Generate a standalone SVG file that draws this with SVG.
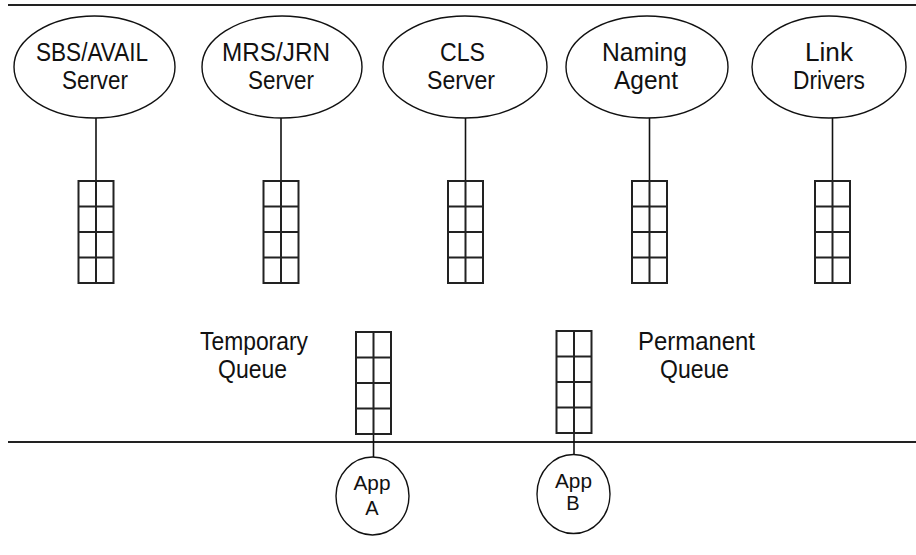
<svg xmlns="http://www.w3.org/2000/svg" width="916" height="555" viewBox="0 0 916 555">
<defs>
<style>
.bar{stroke:#222;stroke-width:2;fill:none}
.ell{fill:#fff;stroke:#111;stroke-width:1.4}
.q{fill:none;stroke:#222;stroke-width:2}
.stem{stroke:#111;stroke-width:1.6;fill:none}
text{font-family:"Liberation Sans",Arial,sans-serif;font-size:25px;fill:#111;text-anchor:middle}
.small{font-size:20px}
</style>
<path id="qshape" class="q" d="M0,0H35V102H0Z M17.5,0V102 M0,25.5H35 M0,51H35 M0,76.5H35"/>
</defs>
<rect width="916" height="555" fill="#fff"/>
<g id="boundaries">
<line class="bar" x1="8" y1="5" x2="916" y2="5"/>
<line class="bar" x1="8" y1="442" x2="916" y2="442"/>
</g>
<g id="connectors">
<line class="stem" x1="96" y1="118" x2="96" y2="181"/>
<line class="stem" x1="281" y1="118" x2="281" y2="181"/>
<line class="stem" x1="465.5" y1="118" x2="465.5" y2="181"/>
<line class="stem" x1="649.5" y1="118" x2="649.5" y2="181"/>
<line class="stem" x1="832.5" y1="118" x2="832.5" y2="181"/>
<line class="stem" x1="373.5" y1="434" x2="373.5" y2="457"/>
<line class="stem" x1="574" y1="433" x2="574" y2="455"/>
</g>
<g id="sbs-avail">
<ellipse class="ell" cx="94.5" cy="67" rx="80.5" ry="51"/>
<text x="92" y="61" textLength="112" lengthAdjust="spacingAndGlyphs">SBS/AVAIL</text>
<text x="95" y="89" textLength="66" lengthAdjust="spacingAndGlyphs">Server</text>
</g>
<g id="mrs-jrn">
<ellipse class="ell" cx="282" cy="67" rx="80" ry="51"/>
<text x="276" y="61" textLength="108" lengthAdjust="spacingAndGlyphs">MRS/JRN</text>
<text x="281" y="89" textLength="66" lengthAdjust="spacingAndGlyphs">Server</text>
</g>
<g id="cls">
<ellipse class="ell" cx="465" cy="67" rx="82" ry="51"/>
<text x="462.5" y="61" textLength="45" lengthAdjust="spacingAndGlyphs">CLS</text>
<text x="461" y="89" textLength="68" lengthAdjust="spacingAndGlyphs">Server</text>
</g>
<g id="naming-agent">
<ellipse class="ell" cx="647" cy="67" rx="81" ry="51"/>
<text x="644.5" y="61" textLength="85" lengthAdjust="spacingAndGlyphs">Naming</text>
<text x="646" y="89" textLength="64" lengthAdjust="spacingAndGlyphs">Agent</text>
</g>
<g id="link-drivers">
<ellipse class="ell" cx="829" cy="67" rx="77" ry="51"/>
<text x="829" y="61" textLength="48" lengthAdjust="spacingAndGlyphs">Link</text>
<text x="829" y="89" textLength="72" lengthAdjust="spacingAndGlyphs">Drivers</text>
</g>
<g id="queue-sbs"><use href="#qshape" x="78.5" y="181"/></g>
<g id="queue-mrs"><use href="#qshape" x="263.5" y="181"/></g>
<g id="queue-cls"><use href="#qshape" x="448" y="181"/></g>
<g id="queue-naming"><use href="#qshape" x="632" y="181"/></g>
<g id="queue-link"><use href="#qshape" x="815" y="181"/></g>
<g id="temporary-queue">
<use href="#qshape" x="356" y="332"/>
<text x="254" y="350" textLength="108" lengthAdjust="spacingAndGlyphs">Temporary</text>
<text x="252.5" y="378" textLength="69" lengthAdjust="spacingAndGlyphs">Queue</text>
</g>
<g id="permanent-queue">
<use href="#qshape" x="556.5" y="331"/>
<text x="696.5" y="350" textLength="117" lengthAdjust="spacingAndGlyphs">Permanent</text>
<text x="694.5" y="378" textLength="69" lengthAdjust="spacingAndGlyphs">Queue</text>
</g>
<g id="app-a">
<ellipse class="ell" cx="372.5" cy="496" rx="36.5" ry="39"/>
<text class="small" x="372" y="490" textLength="37" lengthAdjust="spacingAndGlyphs">App</text>
<text class="small" x="372" y="515">A</text>
</g>
<g id="app-b">
<ellipse class="ell" cx="573.5" cy="494" rx="36.5" ry="39.5"/>
<text class="small" x="573.5" y="488" textLength="37" lengthAdjust="spacingAndGlyphs">App</text>
<text class="small" x="573" y="510">B</text>
</g>
</svg>
